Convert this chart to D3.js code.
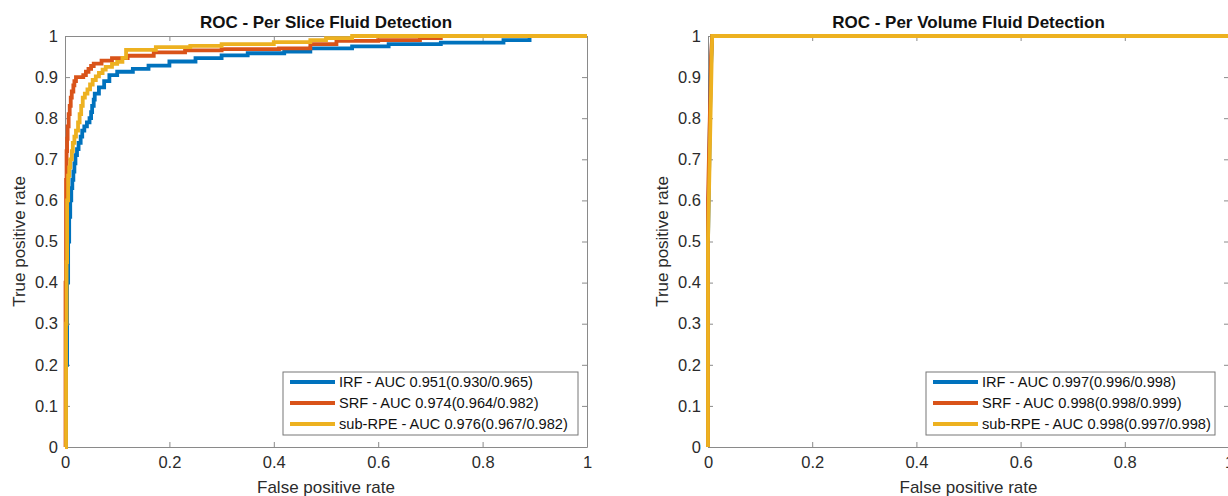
<!DOCTYPE html>
<meta charset="utf-8">
<script src="https://d3js.org/d3.v7.min.js"></script>
<style>
body { margin: 0; background: #fff; }
svg text { font-family: "Liberation Sans", Arial, Helvetica, sans-serif; }
.tick text { fill: #2b2b2b; }
</style>
<div id="chart"></div>
<script>
// ---- data ----
const seriesNames = ['IRF', 'SRF', 'sub-RPE'];
const seriesColors = ['#0072BD', '#D95319', '#EDB120'];
const xTicks = [0, 0.2, 0.4, 0.6, 0.8, 1];
const yTicks = [0, 0.1, 0.2, 0.3, 0.4, 0.5, 0.6, 0.7, 0.8, 0.9, 1];

// per slice ROC points [fpr, tpr]
const sliceIRF = [[0,0],[0.002,0.2],[0.004,0.4],[0.006,0.5],[0.008,0.56],[0.01,0.6],[0.012,0.63],[0.014,0.65],[0.016,0.67],[0.018,0.69],[0.02,0.71],[0.023,0.725],[0.026,0.74],[0.03,0.755],[0.033,0.77],[0.037,0.78],[0.042,0.79],[0.047,0.80],[0.05,0.815],[0.052,0.83],[0.055,0.845],[0.057,0.86],[0.065,0.875],[0.075,0.89],[0.085,0.905],[0.1,0.913],[0.13,0.92],[0.16,0.928],[0.2,0.938],[0.25,0.946],[0.3,0.953],[0.35,0.958],[0.42,0.962],[0.47,0.97],[0.55,0.975],[0.62,0.98],[0.72,0.984],[0.84,0.99],[0.89,0.993],[0.89,1],[1,1]];
const sliceSRF = [[0,0],[0.001,0.4],[0.002,0.65],[0.003,0.72],[0.004,0.75],[0.005,0.78],[0.007,0.81],[0.009,0.83],[0.011,0.85],[0.013,0.865],[0.016,0.88],[0.018,0.89],[0.021,0.9],[0.035,0.905],[0.04,0.913],[0.045,0.92],[0.05,0.927],[0.055,0.933],[0.07,0.94],[0.09,0.946],[0.12,0.952],[0.17,0.96],[0.23,0.965],[0.3,0.968],[0.41,0.97],[0.47,0.98],[0.52,0.988],[0.6,0.99],[0.68,0.995],[0.72,1],[1,1]];
const sliceRPE = [[0,0],[0.002,0.3],[0.003,0.45],[0.004,0.6],[0.006,0.66],[0.008,0.68],[0.01,0.7],[0.013,0.72],[0.015,0.74],[0.018,0.755],[0.021,0.77],[0.025,0.79],[0.028,0.81],[0.031,0.83],[0.034,0.85],[0.038,0.86],[0.043,0.87],[0.048,0.882],[0.053,0.893],[0.059,0.902],[0.065,0.91],[0.072,0.918],[0.078,0.925],[0.09,0.932],[0.1,0.937],[0.11,0.947],[0.117,0.966],[0.174,0.973],[0.24,0.976],[0.3,0.98],[0.4,0.985],[0.47,0.99],[0.5,0.995],[0.55,1],[1,1]];

// per volume ROC points [fpr, tpr]
const volIRF = [[0,0],[0,0.5],[0.005,0.9],[0.008,1],[1,1]];
const volSRF = [[0,0],[0,0.6],[0.006,0.95],[0.008,1],[1,1]];
const volRPE = [[0,0],[0,0.5],[0.008,1],[1,1]];

const sliceLegend = ['IRF - AUC 0.951(0.930/0.965)', 'SRF - AUC 0.974(0.964/0.982)', 'sub-RPE - AUC 0.976(0.967/0.982)'];
const volLegend = ['IRF - AUC 0.997(0.996/0.998)', 'SRF - AUC 0.998(0.998/0.999)', 'sub-RPE - AUC 0.998(0.997/0.998)'];

const width = 1228, height = 496;
const svg = d3.select('#chart').append('svg')
	.attr('width', width).attr('height', height);

function drawPanel(opts) {
	const x = d3.scaleLinear().domain([0, 1]).range([opts.left, opts.right]);
	const y = d3.scaleLinear().domain([0, 1]).range([447, 36]);
	const g = svg.append('g');

	// box + ticks pointing inward (matlab style)
	g.append('g').attr('transform', `translate(0,${y(0)})`)
		.call(d3.axisBottom(x).tickValues(xTicks).tickFormat(d3.format('')).tickSizeInner(-5).tickSizeOuter(0).tickPadding(9))
	g.append('g').attr('transform', `translate(0,${y(1)})`)
		.call(d3.axisTop(x).tickValues(xTicks).tickFormat('').tickSizeInner(-5).tickSizeOuter(0))
	g.append('g').attr('transform', `translate(${x(0)},0)`)
		.call(d3.axisLeft(y).tickValues(yTicks).tickFormat(d3.format('')).tickSizeInner(-5).tickSizeOuter(0).tickPadding(7))
	g.append('g').attr('transform', `translate(${x(1)},0)`)
		.call(d3.axisRight(y).tickValues(yTicks).tickFormat('').tickSizeInner(-5).tickSizeOuter(0))
	g.selectAll('.domain, .tick line').attr('stroke', '#8a8a8a')
	g.selectAll('.tick text').attr('font-size', 16.5)

	// curves
	const line = d3.line().x(d => x(d[0])).y(d => y(d[1])).curve(opts.curve)
	opts.series.forEach((s, i) => {
		g.append('path')
			.datum(s)
			.attr('d', line)
			.attr('fill', 'none')
			.attr('stroke', seriesColors[i])
			.attr('stroke-width', 3.8)
			.attr('stroke-linejoin', 'miter')
	})

	// title and axis labels
	g.append('text')
		.attr('x', (opts.left + opts.right) / 2).attr('y', 28)
		.attr('text-anchor', 'middle').attr('font-size', 17).attr('font-weight', 'bold')
		.attr('fill', '#111')
		.text(opts.title)
	g.append('text')
		.attr('x', (opts.left + opts.right) / 2).attr('y', 493)
		.attr('text-anchor', 'middle').attr('font-size', 17).attr('fill', '#2b2b2b')
		.text('False positive rate')
	g.append('text')
		.attr('transform', `translate(${opts.left - 40},${y(0.5)}) rotate(-90)`)
		.attr('text-anchor', 'middle').attr('font-size', 17).attr('fill', '#2b2b2b')
		.text('True positive rate')

	// legend
	const lg = g.append('g').attr('transform', `translate(${opts.legendX},372)`)
	lg.append('rect')
		.attr('width', opts.legendW).attr('height', 63)
		.attr('fill', '#fff').attr('stroke', '#777').attr('stroke-width', 1)
	opts.legend.forEach((t, i) => {
		lg.append('line')
			.attr('x1', 7).attr('x2', 52)
			.attr('y1', 10 + i * 21).attr('y2', 10 + i * 21)
			.attr('stroke', seriesColors[i]).attr('stroke-width', 3.8)
		lg.append('text')
			.attr('x', 56).attr('y', 15 + i * 21)
			.attr('font-size', 14.6).attr('fill', '#111')
			.text(t)
	})
}

drawPanel({
	left: 65, right: 587,
	title: 'ROC - Per Slice Fluid Detection',
	series: [sliceIRF, sliceSRF, sliceRPE],
	curve: d3.curveStepAfter,
	legend: sliceLegend,
	legendX: 283, legendW: 295,
})
drawPanel({
	left: 708, right: 1229,
	title: 'ROC - Per Volume Fluid Detection',
	series: [volIRF, volSRF, volRPE],
	curve: d3.curveLinear,
	legend: volLegend,
	legendX: 926, legendW: 289,
})
</script>
